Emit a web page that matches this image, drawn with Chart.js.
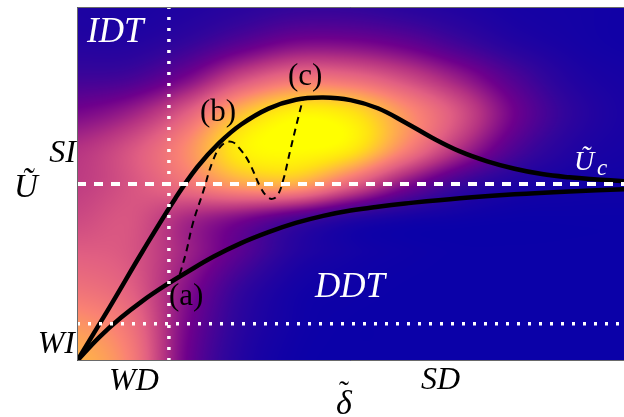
<!DOCTYPE html>
<html>
<head>
<meta charset="utf-8">
<script src="https://cdn.jsdelivr.net/npm/chart.js@4.4.0/dist/chart.umd.min.js"></script>
<style>
  html, body { margin: 0; padding: 0; background: #fff; }
  #wrap { width: 624px; height: 417px; }
</style>
</head>
<body>
<div id="wrap"><canvas id="chart" width="624" height="417"></canvas></div>
<script>
// upper solid curve
const upperX = [0, 0.6, 1.2, 1.8, 2.2, 2.6, 3.0, 3.5, 4.0, 4.5, 5.0, 5.5, 6.0, 6.5, 7.0, 7.5, 8.0, 8.5, 9.0, 9.5, 10];
const upperY = [0, 1.53, 3.1, 4.6, 5.48, 6.16, 6.68, 7.13, 7.38, 7.44, 7.37, 7.14, 6.74, 6.3, 5.92, 5.64, 5.43, 5.28, 5.19, 5.13, 5.08];
// lower solid curve
const lowerX = [0, 0.4, 0.8, 1.2, 1.6, 2.0, 2.5, 3.0, 3.5, 4.0, 4.5, 5.0, 5.5, 6.0, 7.0, 8.0, 9.0, 10];
const lowerY = [0, 0.66, 1.22, 1.7, 2.12, 2.5, 2.95, 3.33, 3.64, 3.9, 4.1, 4.25, 4.36, 4.45, 4.6, 4.71, 4.79, 4.85];
// dashed path (a) -> (b) -> (c)
const pathX = [1.88, 2.0, 2.12, 2.3, 2.49, 2.65, 2.83, 3.0, 3.15, 3.35, 3.47, 3.57, 3.67, 3.77, 3.9, 4.02, 4.13];
const pathY = [2.45, 3.1, 3.9, 4.75, 5.68, 6.1, 6.19, 5.95, 5.6, 4.92, 4.65, 4.58, 4.69, 5.11, 5.96, 6.72, 7.4];

// reference lines
const uCrit = 5.0;
const wdLimit = 1.68;
const wiLimit = 1.05;

// background field, rows from top (y=10) to bottom (y=0)
const fieldX = [0, 1, 2, 3, 4, 5, 6, 7, 8, 9, 10];
const fieldY = [10, 9, 8, 7, 6, 5, 4, 3, 2, 1, 0];
const field = [
  [0.08, 0.07, 0.09, 0.12, 0.15, 0.15, 0.12, 0.09, 0.06, 0.05, 0.04],
  [0.10, 0.10, 0.15, 0.24, 0.32, 0.32, 0.27, 0.18, 0.10, 0.06, 0.04],
  [0.18, 0.20, 0.32, 0.52, 0.64, 0.62, 0.52, 0.38, 0.22, 0.10, 0.06],
  [0.32, 0.40, 0.58, 0.84, 0.97, 0.93, 0.74, 0.54, 0.30, 0.14, 0.07],
  [0.45, 0.55, 0.72, 0.96, 1.00, 0.95, 0.70, 0.44, 0.22, 0.10, 0.06],
  [0.48, 0.55, 0.65, 0.78, 0.80, 0.60, 0.35, 0.17, 0.08, 0.05, 0.04],
  [0.52, 0.55, 0.42, 0.32, 0.20, 0.10, 0.05, 0.03, 0.02, 0.02, 0.02],
  [0.58, 0.55, 0.40, 0.24, 0.10, 0.05, 0.03, 0.02, 0.02, 0.02, 0.02],
  [0.65, 0.58, 0.35, 0.15, 0.05, 0.03, 0.02, 0.02, 0.02, 0.02, 0.02],
  [0.75, 0.64, 0.32, 0.12, 0.04, 0.02, 0.02, 0.02, 0.02, 0.02, 0.02],
  [0.82, 0.68, 0.30, 0.10, 0.03, 0.02, 0.02, 0.02, 0.02, 0.02, 0.02]
];

const cmapStops = [0, 0.15, 0.30, 0.45, 0.58, 0.70, 0.82, 0.92, 1.0];
const cmapColors = [
  [5, 0, 170], [50, 5, 155], [110, 0, 140], [180, 50, 130], [225, 95, 130],
  [250, 130, 115], [255, 180, 70], [255, 225, 20], [255, 255, 0]
];

const pts = (xs, ys) => xs.map((v, i) => ({ x: v, y: ys[i] }));

function colorAt(v) {
  v = Math.max(0, Math.min(1, v));
  let k = 0;
  while (k < cmapStops.length - 2 && v > cmapStops[k + 1]) k++;
  const t = (v - cmapStops[k]) / (cmapStops[k + 1] - cmapStops[k]);
  const a = cmapColors[k], b = cmapColors[k + 1];
  return [a[0] + (b[0] - a[0]) * t, a[1] + (b[1] - a[1]) * t, a[2] + (b[2] - a[2]) * t];
}

// Catmull-Rom weights
function crw(t) {
  const t2 = t * t, t3 = t2 * t;
  return [
    (-t3 + 2 * t2 - t) / 2,
    (3 * t3 - 5 * t2 + 2) / 2,
    (-3 * t3 + 4 * t2 + t) / 2,
    (t3 - t2) / 2
  ];
}

const cell = (j, i) => field[Math.max(0, Math.min(fieldY.length - 1, j))][Math.max(0, Math.min(fieldX.length - 1, i))];

function sample(vx, vy) {
  const fi = (vx - fieldX[0]) / (fieldX[1] - fieldX[0]);
  const fj = (vy - fieldY[0]) / (fieldY[1] - fieldY[0]);
  const i0 = Math.min(Math.floor(fi), fieldX.length - 2), j0 = Math.min(Math.floor(fj), fieldY.length - 2);
  const wx = crw(fi - i0), wy = crw(fj - j0);
  let s = 0;
  for (let m = 0; m < 4; m++) {
    let row = 0;
    for (let n = 0; n < 4; n++) row += wx[n] * cell(j0 - 1 + m, i0 - 1 + n);
    s += wy[m] * row;
  }
  return s;
}

const heatmap = {
  id: 'heatmap',
  beforeDatasetsDraw(chart) {
    const { ctx, chartArea: a, scales: { x, y } } = chart;
    const w = Math.round(a.right - a.left), h = Math.round(a.bottom - a.top);
    const img = ctx.createImageData(w, h);
    for (let j = 0; j < h; j++) {
      const vy = y.getValueForPixel(a.top + j + 0.5);
      for (let i = 0; i < w; i++) {
        const vx = x.getValueForPixel(a.left + i + 0.5);
        const c = colorAt(sample(vx, vy));
        const p = (j * w + i) * 4;
        img.data[p] = c[0]; img.data[p + 1] = c[1]; img.data[p + 2] = c[2]; img.data[p + 3] = 255;
      }
    }
    ctx.putImageData(img, Math.round(a.left), Math.round(a.top));
  }
};

const frameAndText = {
  id: 'frameAndText',
  afterDraw(chart) {
    const { ctx, chartArea: a } = chart;
    ctx.save();
    // frame
    ctx.strokeStyle = '#6a6a6a';
    ctx.lineWidth = 1;
    ctx.beginPath();
    ctx.moveTo(a.right, a.top + 0.5); ctx.lineTo(a.left + 0.5, a.top + 0.5);
    ctx.lineTo(a.left + 0.5, a.bottom - 0.5); ctx.lineTo(a.right, a.bottom - 0.5);
    ctx.stroke();

    const serif = '"Liberation Serif", "Times New Roman", Tinos, "DejaVu Serif", serif';
    ctx.textBaseline = 'alphabetic';

    // white labels inside plot
    ctx.fillStyle = '#fff';
    ctx.font = 'italic 35px ' + serif;
    ctx.textAlign = 'left';
    ctx.fillText('IDT', 87, 42);
    ctx.fillText('DDT', 315, 297);
    ctx.font = 'italic 28px ' + serif;
    ctx.fillText('Ũ', 574, 170);
    ctx.font = 'italic 23px ' + serif;
    ctx.fillText('c', 597, 175);

    // black point labels
    ctx.fillStyle = '#000';
    ctx.font = '31px ' + serif;
    ctx.fillText('(a)', 169, 305);
    ctx.fillText('(b)', 200, 121);
    ctx.fillText('(c)', 288, 85);

    // outside labels
    ctx.font = 'italic 32px ' + serif;
    ctx.textAlign = 'right';
    ctx.fillText('SI', 76, 162);
    ctx.fillText('WI', 75, 353);
    ctx.textAlign = 'left';
    ctx.fillText('WD', 109, 390);
    ctx.fillText('SD', 421, 389);
    ctx.font = 'italic 33px ' + serif;
    ctx.fillText('Ũ', 14, 197);
    ctx.font = 'italic 34px ' + serif;
    ctx.fillText('δ', 336, 414);
    ctx.font = '30px ' + serif;
    ctx.fillText('˜', 339, 401);
    ctx.restore();
  }
};

new Chart(document.getElementById('chart'), {
  type: 'line',
  data: {
    datasets: [
      { data: pts([0, 10], [uCrit, uCrit]), borderColor: '#fff', borderWidth: 4, borderDash: [9, 8], order: 0 },
      { data: pts([wdLimit, wdLimit], [0, 10]), borderColor: '#fff', borderWidth: 3.5, borderDash: [3, 8], order: 0 },
      { data: pts([0, 10], [wiLimit, wiLimit]), borderColor: '#fff', borderWidth: 3.5, borderDash: [3, 8], order: 0 },
      { data: pts(upperX, upperY), borderColor: '#000', borderWidth: 4.5, tension: 0.4, order: 1 },
      { data: pts(lowerX, lowerY), borderColor: '#000', borderWidth: 4.5, tension: 0.4, order: 1 },
      { data: pts(pathX, pathY), borderColor: '#000', borderWidth: 2, borderDash: [7, 5], tension: 0.4, order: 2 }
    ]
  },
  options: {
    responsive: false,
    animation: false,
    layout: { padding: { left: 77, top: 7, right: 0, bottom: 56 } },
    elements: { point: { radius: 0 } },
    plugins: { legend: { display: false }, tooltip: { enabled: false } },
    scales: {
      x: { type: 'linear', min: 0, max: 10, display: false },
      y: { type: 'linear', min: 0, max: 10, display: false }
    }
  },
  plugins: [heatmap, frameAndText]
});
</script>
</body>
</html>
